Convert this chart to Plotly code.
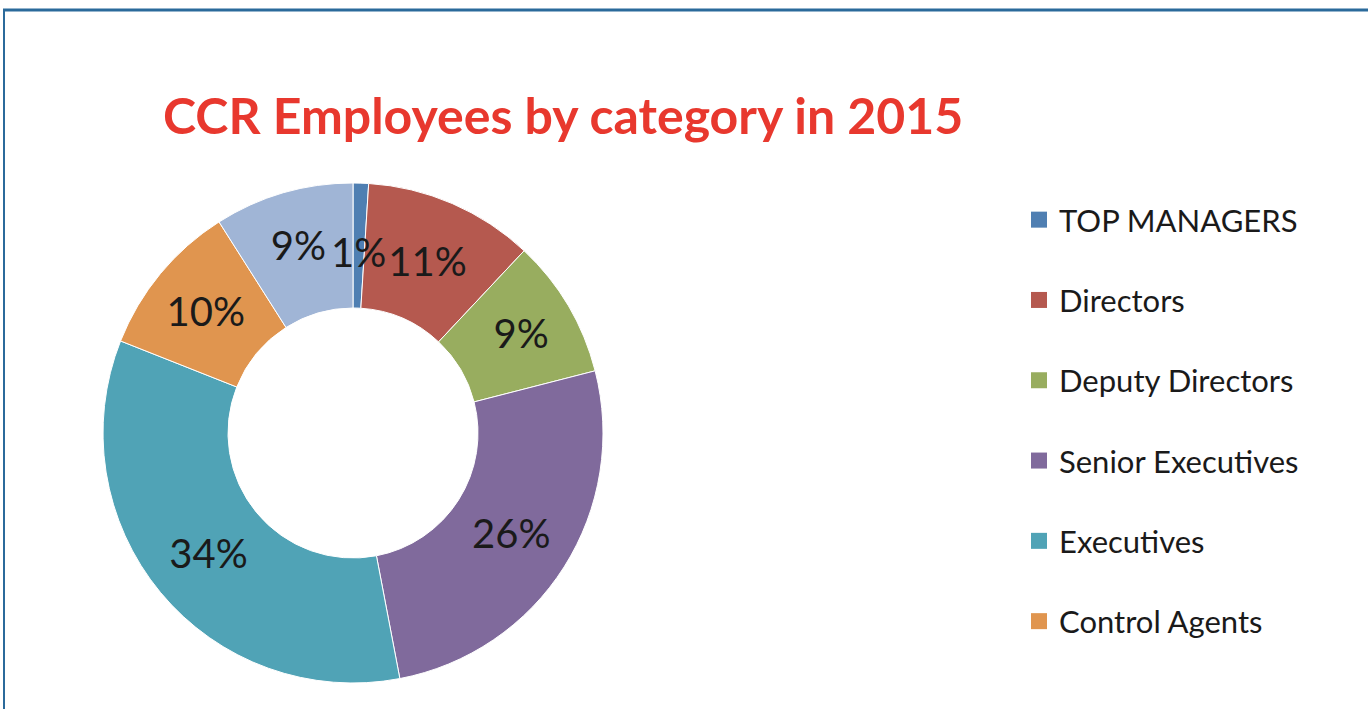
import math
import plotly.graph_objects as go

labels = ["TOP MANAGERS", "Directors", "Deputy Directors", "Senior Executives",
          "Executives", "Control Agents", "Other"]
values = [1, 11, 9, 26, 34, 10, 9]
colors = ["#4F7FB2", "#B5594F", "#98AD5F", "#806A9C", "#50A3B6", "#E0954F", "#A0B5D6"]
legend_labels = labels[:6]

W, H = 1368, 709
FONT = "Lato"

# pie geometry (pixels)
CX, CY, R = 353, 433, 250
HOLE = 0.5

total = sum(values)
# thin slices: label drawn as annotation at ring middle so it is not pushed outward
thin = [v / total < 0.03 for v in values]
texts = ["" if t else f"{round(100 * v / total)}%" for v, t in zip(values, thin)]

fig = go.Figure()

fig.add_trace(go.Pie(
    labels=labels, values=values, sort=False, direction="clockwise", rotation=0,
    hole=HOLE, marker=dict(colors=colors, line=dict(color="white", width=1)),
    text=texts, textinfo="text",
    textposition="inside", insidetextorientation="horizontal",
    textfont=dict(family=FONT, size=40, color="#1a1a1a"),
    showlegend=False,
    domain=dict(x=[(CX - R) / W, (CX + R) / W], y=[(H - CY - R) / H, (H - CY + R) / H]),
))

annotations = []
cum = 0
for v, t in zip(values, thin):
    mid = (cum + v / 2) / total
    cum += v
    if t:
        ang = 2 * math.pi * mid
        rr = R * (1 + HOLE) / 2 - 6
        px = CX + rr * math.sin(ang)
        py = CY - rr * math.cos(ang)
        annotations.append(dict(
            x=px / W, y=1 - py / H, xref="paper", yref="paper", showarrow=False,
            text=f"{round(100 * v / total)}%", xanchor="center", yanchor="middle",
            font=dict(family=FONT, size=40, color="#1a1a1a")))

for i, name in enumerate(legend_labels):
    fig.add_trace(go.Scatter(
        x=[None], y=[None], mode="markers", name=name, legendgroup=f"g{i}",
        marker=dict(symbol="square", size=20, color=colors[i]),
    ))

shapes = [
    dict(type="line", xref="paper", yref="paper", x0=3 / W, x1=1, y0=1 - 10 / H, y1=1 - 10 / H,
         line=dict(color="#2B6A9B", width=3)),
    dict(type="line", xref="paper", yref="paper", x0=4 / W, x1=4 / W, y0=0, y1=1 - 10 / H,
         line=dict(color="#2B6A9B", width=2)),
]

fig.update_layout(
    width=W, height=H,
    margin=dict(l=0, r=0, t=0, b=0),
    paper_bgcolor="white", plot_bgcolor="white",
    xaxis=dict(visible=False), yaxis=dict(visible=False),
    title=dict(text="<b>CCR Employees by category in 2015</b>", x=163 / W, xanchor="left",
               xref="paper", yref="paper", y=1 - 116 / H, yanchor="middle",
               font=dict(family=FONT, size=50, color="#E8382E")),
    legend=dict(x=1019 / W, y=1 - 193 / H, xanchor="left", yanchor="top",
                font=dict(family=FONT, size=31, color="#1a1a1a"),
                tracegroupgap=37, bgcolor="rgba(0,0,0,0)"),
    annotations=annotations,
    shapes=shapes,
)

fig.write_html("out.html", config={"displayModeBar": False},
               post_script="document.body.style.margin='0';")
